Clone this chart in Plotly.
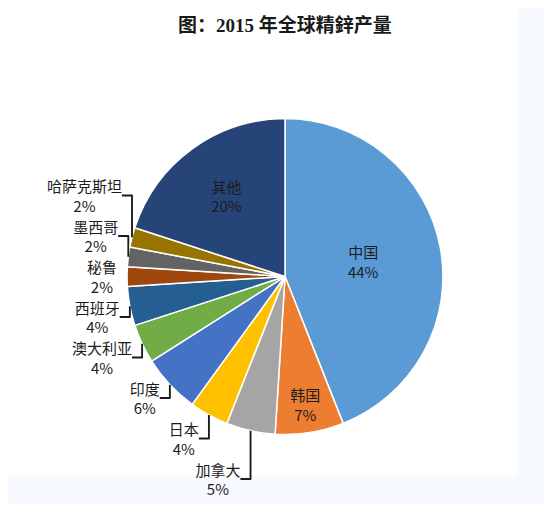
import plotly.graph_objects as go

# 2015 global refined zinc output, share by country (%)
countries = ["中国", "韩国", "加拿大", "日本", "印度", "澳大利亚", "西班牙", "秘鲁", "墨西哥", "哈萨克斯坦", "其他"]
shares = [44, 7, 5, 4, 6, 4, 4, 2, 2, 2, 20]
colors = ["#5B9BD5", "#ED7D31", "#A5A5A5", "#FFC000", "#4472C4", "#70AD47",
          "#255E91", "#9E480E", "#636363", "#997300", "#264478"]
inside = ["中国", "韩国", "其他"]

fig = go.Figure()
fig.add_trace(go.Pie(
    labels=countries,
    values=shares,
    sort=False,
    direction="clockwise",
    rotation=0,
    marker=dict(colors=colors, line=dict(color="white", width=1.5)),
    texttemplate="%{label}<br>%{value}%",
    textposition=["inside" if c in inside else "outside" for c in countries],
    insidetextorientation="horizontal",
    textfont=dict(family="Noto Sans CJK SC", size=15, color="#1c1c1c"),
    showlegend=False,
    hoverinfo="label+percent",
    domain=dict(x=[0.2164, 0.8172], y=[0.117, 0.771]),
))

# figure is 16px smaller than the window, the page body adds an 8px margin
fig.update_layout(
    width=536,
    height=496,
    margin=dict(l=0, r=0, t=0, b=0),
    paper_bgcolor="#F6F9FE",
    title=dict(
        text="<b>图：2015 年全球精鋅产量</b>",
        x=0.5168, xanchor="center",
        y=0.9657, yanchor="middle",
        font=dict(family="Liberation Serif, Noto Sans CJK SC", size=19, color="#1a1a1a"),
    ),
    shapes=[dict(type="rect", xref="paper", yref="paper", x0=0, x1=0.9515, y0=0.0323, y1=1,
                 fillcolor="white", line=dict(width=0), layer="below")],
)

fig.write_html("out.html")
